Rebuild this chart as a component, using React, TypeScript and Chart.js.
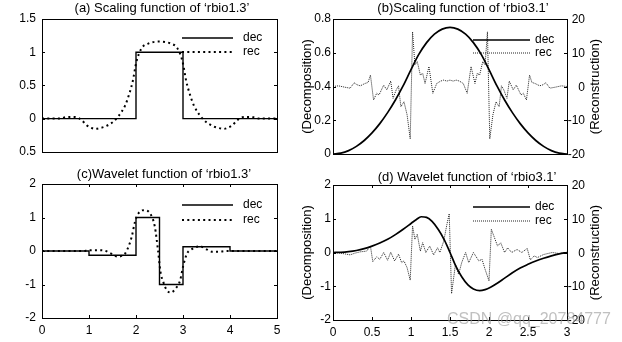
import React, { useEffect, useRef } from 'react';
import { Chart, registerables } from 'chart.js';

Chart.register(...registerables);

const FONT = 'Arial, "Liberation Sans", Helvetica, sans-serif';

// ---------------- data ----------------
// (a) Scaling function of 'rbio1.3'
const aDec: number[][] = [[0, 0], [2, 0], [2, 1], [3, 1], [3, 0], [5, 0]];
const aRec: number[][] = [
  [0, 0], [0.38, 0], [0.5, 0.02], [0.62, 0.025], [0.74, 0.02], [0.84, -0.02], [0.95, -0.1],
  [1.05, -0.14], [1.13, -0.155], [1.25, -0.14], [1.34, -0.12], [1.52, -0.045], [1.62, 0.03],
  [1.77, 0.2], [1.86, 0.38], [1.93, 0.56], [2.01, 0.86], [2.12, 1.06], [2.26, 1.13], [2.5, 1.16],
  [2.74, 1.13], [2.88, 1.06], [2.99, 0.86], [3.07, 0.56], [3.14, 0.38], [3.23, 0.2], [3.38, 0.03],
  [3.48, -0.045], [3.66, -0.12], [3.75, -0.14], [3.87, -0.155], [3.95, -0.14], [4.05, -0.1],
  [4.16, -0.02], [4.26, 0.02], [4.38, 0.025], [4.5, 0.02], [4.62, 0], [5, 0],
];

// (b) Scaling function of 'rbio3.1'
const bDec: number[][] = [
  [0, 0], [0.1, 0.005], [0.2, 0.02], [0.3, 0.045], [0.4, 0.08], [0.5, 0.125], [0.6, 0.18],
  [0.7, 0.245], [0.8, 0.32], [0.9, 0.405], [1.0, 0.5], [1.1, 0.59], [1.2, 0.66], [1.3, 0.71],
  [1.4, 0.74], [1.5, 0.75], [1.6, 0.74], [1.7, 0.71], [1.8, 0.66], [1.9, 0.59], [2.0, 0.5],
  [2.1, 0.405], [2.2, 0.32], [2.3, 0.245], [2.4, 0.18], [2.5, 0.125], [2.6, 0.08], [2.7, 0.045],
  [2.8, 0.02], [2.9, 0.005], [3.0, 0],
];
const bRec: number[][] = [
  [0, 0], [0.07, 0.2], [0.15, -0.2], [0.22, -0.5], [0.27, 1.1], [0.31, 0.5], [0.35, 0.2],
  [0.41, 0.9], [0.45, 1.2], [0.48, 3.4], [0.52, -4.0], [0.56, -2.0], [0.59, -2.5], [0.65, 0.4],
  [0.69, -1.0], [0.74, 1.6], [0.77, -3.5], [0.81, -1.0], [0.84, 0.2], [0.87, -6], [0.91, -4.5],
  [0.95, -8.4], [0.99, -15.5], [1.02, 16.2], [1.05, 6.4], [1.08, 7.4], [1.12, 3.4], [1.15, 3.9],
  [1.18, 0.9], [1.23, 5.9], [1.28, -2], [1.33, 0.9], [1.38, 1.6], [1.42, 1.9], [1.46, 1.6],
  [1.5, 1.9], [1.54, 1.6], [1.58, 1.9], [1.62, 1.6], [1.67, 0.9], [1.72, -2], [1.77, 5.9],
  [1.82, 0.9], [1.85, 3.9], [1.88, 3.4], [1.92, 7.4], [1.95, 6.4], [1.98, 16.2], [2.01, -15.5],
  [2.05, -8.4], [2.09, -4.5], [2.13, -6], [2.16, 0.2], [2.19, -1.0], [2.23, -3.5], [2.26, 1.6],
  [2.31, -1.0], [2.35, 0.4], [2.41, -2.5], [2.44, -2.0], [2.48, -4.0], [2.52, 3.4], [2.55, 1.2],
  [2.59, 0.9], [2.65, 0.2], [2.69, 0.5], [2.73, 1.1], [2.78, -0.5], [2.85, -0.2], [2.93, 0.2], [3, 0],
];

// (c) Wavelet function of 'rbio1.3'
const cDec: number[][] = [
  [0, 0], [1, 0], [1, -0.125], [2, -0.125], [2, 1], [2.5, 1], [2.5, -1], [3, -1],
  [3, 0.125], [4, 0.125], [4, 0], [5, 0],
];
const cRec: number[][] = [
  [0, 0], [0.88, 0], [0.98, 0.02], [1.2, 0.025], [1.3, 0.02], [1.45, -0.06], [1.55, -0.14],
  [1.62, -0.17], [1.7, -0.14], [1.77, -0.07], [1.84, 0.13], [1.91, 0.43], [1.98, 0.88],
  [2.05, 1.12], [2.17, 1.22], [2.3, 1.12], [2.4, 0.73], [2.47, 0], [2.52, -0.62], [2.58, -0.92],
  [2.65, -1.16], [2.74, -1.24], [2.85, -1.11], [2.94, -0.87], [3.0, -0.47], [3.08, -0.09],
  [3.18, 0.05], [3.36, 0.14], [3.5, 0.05], [3.61, -0.02], [3.79, -0.02], [3.93, 0], [5, 0],
];

// (d) Wavelet function of 'rbio3.1'
const dDec: number[][] = [
  [0, 0], [0.1, 0.005], [0.2, 0.025], [0.3, 0.06], [0.4, 0.115], [0.5, 0.19], [0.6, 0.28],
  [0.7, 0.39], [0.8, 0.53], [0.9, 0.69], [1.0, 0.86], [1.07, 0.98], [1.13, 1.06], [1.2, 1.04],
  [1.27, 0.92], [1.35, 0.68], [1.43, 0.36], [1.5, 0], [1.57, -0.38], [1.65, -0.72],
  [1.73, -0.96], [1.8, -1.08], [1.88, -1.13], [1.95, -1.1], [2.02, -1.03], [2.1, -0.92],
  [2.2, -0.76], [2.3, -0.6], [2.4, -0.46], [2.5, -0.35], [2.6, -0.25], [2.7, -0.17],
  [2.8, -0.1], [2.9, -0.04], [3, 0],
];
const dRec: number[][] = [
  [0, 0], [0.1, -0.2], [0.22, -0.7], [0.28, -0.2], [0.35, 0.2], [0.43, 0.4], [0.48, 1.9],
  [0.51, -2.7], [0.56, -1.3], [0.6, -2], [0.65, 0], [0.7, -2.3], [0.74, 0.1], [0.79, -2.5],
  [0.84, -0.5], [0.88, -3], [0.91, -2.5], [0.95, -4.5], [0.99, -8.2], [1.02, 7.9], [1.05, 3.9],
  [1.08, 5.4], [1.12, 0.4], [1.15, 2.9], [1.19, 0], [1.24, 1.9], [1.29, -0.7], [1.34, 1.4],
  [1.37, 0], [1.42, 3.4], [1.46, 8.3], [1.49, 11.5], [1.52, -12.2], [1.57, -3.5], [1.61, -6.5],
  [1.65, -3], [1.7, 0], [1.74, -3], [1.8, 0], [1.87, -2.5], [1.91, -2], [1.95, -5], [2.0, -8.4],
  [2.03, 6.9], [2.07, 4.4], [2.11, 1.9], [2.15, 2.9], [2.2, 0], [2.24, 1.4], [2.29, 0],
  [2.36, 0.9], [2.42, 0], [2.49, 1.2], [2.53, -2.2], [2.58, -1.0], [2.62, -1.5], [2.7, -0.6],
  [2.81, 0], [2.9, -0.3], [3, 0],
];

// tick labels
const aYLabels = ['0.5', '0', '0.5', '1', '1.5'];
const bYLabels = ['0', '0.2', '0.4', '0.6', '0.8'];
const recYLabels = ['-20', '-10', '0', '10', '20'];
const cYLabels = ['-2', '-1', '0', '1', '2'];
const cXLabels = ['0', '1', '2', '3', '4', '5'];
const dXLabels = ['0', '0.5', '1', '1.5', '2', '2.5', '3'];

const titles = [
  '(a) Scaling function of \u2018rbio1.3\u2019',
  '(b)Scaling function of \u2018rbio3.1\u2019',
  '(c)Wavelet function of \u2018rbio1.3\u2019',
  '(d) Wavelet function of \u2018rbio3.1\u2019',
];
const seriesNames = ['dec', 'rec'];
const axisTitles = ['(Decomposition)', '(Reconstruction)'];
const watermark = 'CSDN @qq_20784777';

// ---------------- panel layout ----------------
interface AxisDef { min: number; max: number; step: number; labels: string[] }
interface PanelDef {
  left: number; top: number; width: number; height: number;
  pad: { left: number; right: number; top: number; bottom: number };
  yWidth: number; yPad: number; y2Width?: number; xHeight?: number;
  x: AxisDef; showX: boolean;
  y: AxisDef; y2?: AxisDef;
  dec: number[][]; rec: number[][];
  smoothDec: boolean; fineRec: boolean;
  title: string; titleX: number; titleY: number;
  legend: { x1: number; x2: number; tx: number; y1: number; y2: number };
  axisTitleX?: [number, number];
}

const panels: PanelDef[] = [
  {
    left: 0, top: 0, width: 300, height: 165,
    pad: { left: 0, right: 23, top: 19, bottom: 13 }, yWidth: 42, yPad: 6,
    x: { min: 0, max: 5, step: 1, labels: cXLabels }, showX: false,
    y: { min: -0.5, max: 1.5, step: 0.5, labels: aYLabels },
    dec: aDec, rec: aRec, smoothDec: false, fineRec: false,
    title: titles[0], titleX: 162, titleY: 8.5,
    legend: { x1: 182, x2: 233, tx: 243, y1: 38, y2: 52 },
  },
  {
    left: 298, top: 0, width: 324, height: 165,
    pad: { left: 0, right: 39, top: 19, bottom: 11 }, yWidth: 35, yPad: 2, y2Width: 16,
    x: { min: 0, max: 3, step: 0.5, labels: dXLabels }, showX: false,
    y: { min: 0, max: 0.8, step: 0.2, labels: bYLabels },
    y2: { min: -20, max: 20, step: 10, labels: recYLabels },
    dec: bDec, rec: bRec, smoothDec: true, fineRec: true,
    title: titles[1], titleX: 165, titleY: 8.5,
    legend: { x1: 175, x2: 232, tx: 237, y1: 40, y2: 53 },
    axisTitleX: [9, 297],
  },
  {
    left: 0, top: 165, width: 300, height: 177,
    pad: { left: 0, right: 23, top: 19, bottom: 0 }, yWidth: 42, yPad: 6, xHeight: 24,
    x: { min: 0, max: 5, step: 1, labels: cXLabels }, showX: true,
    y: { min: -2, max: 2, step: 1, labels: cYLabels },
    dec: cDec, rec: cRec, smoothDec: false, fineRec: false,
    title: titles[2], titleX: 164, titleY: 9,
    legend: { x1: 182, x2: 233, tx: 243, y1: 40, y2: 55 },
  },
  {
    left: 298, top: 165, width: 324, height: 177,
    pad: { left: 0, right: 39, top: 20, bottom: 0 }, yWidth: 35, yPad: 2, y2Width: 16, xHeight: 22,
    x: { min: 0, max: 3, step: 0.5, labels: dXLabels }, showX: true,
    y: { min: -2, max: 2, step: 1, labels: cYLabels },
    y2: { min: -20, max: 20, step: 10, labels: recYLabels },
    dec: dDec, rec: dRec, smoothDec: true, fineRec: true,
    title: titles[3], titleX: 169, titleY: 12,
    legend: { x1: 175, x2: 232, tx: 237, y1: 42, y2: 56 },
    axisTitleX: [9, 297],
  },
];

function decorPlugin(p: PanelDef) {
  return {
    id: 'decor',
    afterDraw(chart: any) {
      const ctx: CanvasRenderingContext2D = chart.ctx;
      const a = chart.chartArea;
      const TL = 3;
      ctx.save();
      ctx.strokeStyle = '#000';
      ctx.lineWidth = 1;
      ctx.setLineDash([]);
      const seg = (x1: number, y1: number, x2: number, y2: number) => {
        ctx.beginPath(); ctx.moveTo(x1, y1); ctx.lineTo(x2, y2); ctx.stroke();
      };
      ctx.fillStyle = '#000';
      ctx.font = `12px ${FONT}`;
      // inward ticks
      if (p.showX) {
        const xs = chart.scales.x;
        for (const t of xs.ticks) {
          const px = Math.round(xs.getPixelForValue(t.value)) + 0.5;
          seg(px, a.bottom, px, a.bottom - TL);
          seg(px, a.top, px, a.top + TL);
        }
      }
      const ys = chart.scales.y;
      for (const t of ys.ticks) {
        const py = Math.round(ys.getPixelForValue(t.value)) + 0.5;
        seg(a.left, py, a.left + TL, py);
        if (!p.y2) seg(a.right, py, a.right - TL, py);
      }
      if (p.y2) {
        const y2 = chart.scales.y2;
        ctx.textAlign = 'right';
        ctx.textBaseline = 'middle';
        y2.ticks.forEach((t: any, i: number) => {
          const py = Math.round(y2.getPixelForValue(t.value)) + 0.5;
          seg(a.right, py, a.right - TL, py);
          ctx.fillText(p.y2!.labels[i], a.right + 18, py);
        });
      }
      // box
      ctx.strokeRect(Math.round(a.left) + 0.5, Math.round(a.top) + 0.5,
        Math.round(a.right - a.left), Math.round(a.bottom - a.top));

      // legend
      const ds = chart.data.datasets;
      const L = p.legend;
      ctx.strokeStyle = ds[0].borderColor;
      ctx.lineWidth = ds[0].borderWidth;
      seg(L.x1, L.y1, L.x2, L.y1);
      ctx.strokeStyle = ds[1].borderColor;
      ctx.lineWidth = ds[1].borderWidth;
      ctx.setLineDash(ds[1].borderDash);
      seg(L.x1, L.y2, L.x2, L.y2);
      ctx.setLineDash([]);
      ctx.textAlign = 'left';
      ctx.textBaseline = 'middle';
      ctx.fillText(seriesNames[0], L.tx, L.y1);
      ctx.fillText(seriesNames[1], L.tx, L.y2);

      // title
      ctx.font = `13px ${FONT}`;
      ctx.textAlign = 'center';
      ctx.fillText(p.title, p.titleX, p.titleY);

      // axis titles (both read bottom-to-top)
      if (p.axisTitleX) {
        const cy = (a.top + a.bottom) / 2;
        for (let i = 0; i < 2; i++) {
          ctx.save();
          ctx.translate(p.axisTitleX[i], cy);
          ctx.rotate(-Math.PI / 2);
          ctx.fillText(axisTitles[i], 0, 0);
          ctx.restore();
        }
      }
      ctx.restore();
    },
  };
}

function buildConfig(p: PanelDef): any {
  const tickFont = { family: FONT, size: 12 };
  const toXY = (arr: number[][]) => arr.map(([x, y]) => ({ x, y }));
  const scales: any = {
    x: {
      type: 'linear', min: p.x.min, max: p.x.max, display: p.showX,
      grid: { display: false, drawTicks: false }, border: { display: false },
      ticks: {
        stepSize: p.x.step, font: tickFont, color: '#000', padding: 5,
        maxRotation: 0, autoSkip: false,
        callback: (_v: any, i: number) => p.x.labels[i],
      },
      afterFit: (s: any) => { if (p.xHeight) s.height = p.xHeight; },
    },
    y: {
      type: 'linear', position: 'left', min: p.y.min, max: p.y.max,
      grid: { display: false, drawTicks: false }, border: { display: false },
      ticks: {
        stepSize: p.y.step, font: tickFont, color: '#000', padding: p.yPad,
        callback: (_v: any, i: number) => p.y.labels[i],
      },
      afterFit: (s: any) => { s.width = p.yWidth; },
    },
  };
  if (p.y2) {
    const y2 = p.y2;
    scales.y2 = {
      type: 'linear', position: 'right', min: y2.min, max: y2.max,
      grid: { display: false, drawTicks: false }, border: { display: false },
      ticks: { stepSize: y2.step, display: false },
      afterFit: (s: any) => { s.width = p.y2Width || 16; },
    };
  }
  return {
    type: 'line',
    data: {
      datasets: [
        {
          label: seriesNames[0], data: toXY(p.dec), yAxisID: 'y',
          borderColor: '#000', borderWidth: p.fineRec ? 1.7 : 1.4,
          pointRadius: 0, fill: false,
          cubicInterpolationMode: p.smoothDec ? 'monotone' : 'default', tension: 0,
        },
        {
          label: seriesNames[1], data: toXY(p.rec), yAxisID: p.y2 ? 'y2' : 'y',
          borderColor: p.fineRec ? '#222' : '#000',
          borderWidth: p.fineRec ? 1 : 2,
          borderDash: p.fineRec ? [1, 1] : [2, 3.3],
          pointRadius: 0, fill: false,
          cubicInterpolationMode: p.fineRec ? 'default' : 'monotone', tension: 0,
        },
      ],
    },
    options: {
      responsive: false, animation: false, devicePixelRatio: 1, events: [],
      layout: { padding: p.pad },
      plugins: { legend: { display: false }, tooltip: { enabled: false }, title: { display: false } },
      scales,
    },
    plugins: [decorPlugin(p)],
  };
}

function Panel({ p }: { p: PanelDef }) {
  const ref = useRef<HTMLCanvasElement>(null);
  useEffect(() => {
    const chart = new Chart(ref.current as HTMLCanvasElement, buildConfig(p));
    return () => chart.destroy();
  }, [p]);
  return (
    <canvas
      ref={ref}
      width={p.width}
      height={p.height}
      style={{ position: 'absolute', left: p.left, top: p.top, width: p.width, height: p.height }}
    />
  );
}

export default function App() {
  return (
    <div style={{ position: 'absolute', left: 0, top: 0, width: 622, height: 342, background: '#fff', overflow: 'hidden' }}>
      {panels.map((p, i) => <Panel key={i} p={p} />)}
      <div
        style={{
          position: 'absolute', left: 447, top: 310, fontFamily: FONT, fontSize: 16,
          color: 'rgba(150,150,150,0.6)', whiteSpace: 'nowrap', pointerEvents: 'none',
        }}
      >
        {watermark}
      </div>
    </div>
  );
}
